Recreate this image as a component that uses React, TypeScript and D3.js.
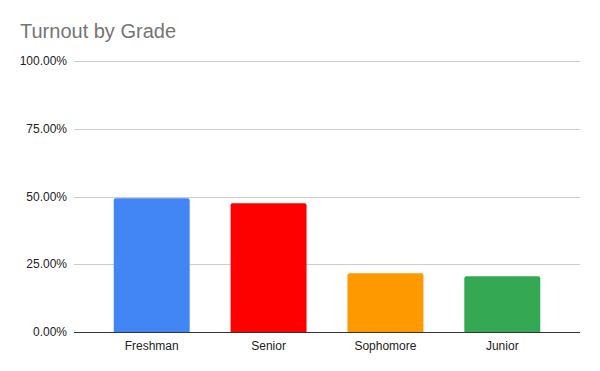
import React from 'react';
import { scaleBand, scaleLinear } from 'd3';

// categories and values
const grades = ['Freshman', 'Senior', 'Sophomore', 'Junior'];
const turnout = [0.494, 0.475, 0.217, 0.206];
const barColors = ['#4285f4', '#ff0000', '#ff9900', '#34a853'];
const yTicks = [0, 0.25, 0.5, 0.75, 1];

const width = 600;
const height = 371;
const margin = { top: 61, right: 20, bottom: 39, left: 74 };
const font = '"Liberation Sans", Arial, sans-serif';

// bar with slightly rounded top corners
function barPath(x: number, y: number, w: number, h: number, r: number) {
  return `M${x},${y + h}V${y + r}Q${x},${y} ${x + r},${y}H${x + w - r}Q${x + w},${y} ${x + w},${y + r}V${y + h}Z`;
}

export default function App() {
  const x = scaleBand<string>()
    .domain(grades)
    .range([margin.left, width - margin.right])
    .paddingInner(0.35)
    .paddingOuter(0.34);

  const y = scaleLinear()
    .domain([0, 1])
    .range([height - margin.bottom, margin.top]);

  return (
    <div style={{ position: 'fixed', top: 0, left: 0 }}>
      <svg width={width} height={height} style={{ display: 'block', background: '#fff' }}>
        <text x={20} y={38} fontFamily={font} fontSize={20} fill="#757575">
          Turnout by Grade
        </text>

        {/* gridlines and tick labels */}
        {yTicks.map((t) => (
          <g key={t}>
            {t > 0 && (
              <line
                x1={margin.left}
                x2={width - margin.right}
                y1={Math.round(y(t)) + 0.5}
                y2={Math.round(y(t)) + 0.5}
                stroke="#cccccc"
              />
            )}
            <text
              x={67}
              y={y(t)}
              dy="0.35em"
              textAnchor="end"
              fontFamily={font}
              fontSize={12}
              fill="#222"
            >
              {(t * 100).toFixed(2) + '%'}
            </text>
          </g>
        ))}

        {/* bars */}
        {grades.map((g, i) => (
          <path
            key={g}
            d={barPath(x(g)!, y(turnout[i]), x.bandwidth(), y(0) - y(turnout[i]), 2)}
            fill={barColors[i]}
          />
        ))}

        {/* baseline */}
        <line
          x1={margin.left}
          x2={width - margin.right}
          y1={Math.round(y(0)) + 0.5}
          y2={Math.round(y(0)) + 0.5}
          stroke="#333"
        />

        {/* category labels */}
        {grades.map((g) => (
          <text
            key={g}
            x={x(g)! + x.bandwidth() / 2}
            y={350}
            textAnchor="middle"
            fontFamily={font}
            fontSize={12}
            fill="#222"
          >
            {g}
          </text>
        ))}
      </svg>
    </div>
  );
}
